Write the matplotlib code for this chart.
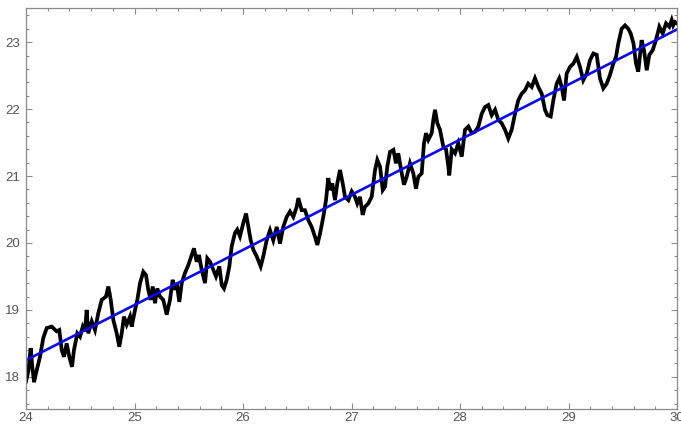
import numpy as np
import matplotlib.pyplot as plt
from matplotlib.ticker import MultipleLocator

# traced path (x, y)
walk_x = [24.000, 24.021, 24.043, 24.058, 24.074, 24.099, 24.129, 24.159, 24.191, 24.237,
          24.283, 24.307, 24.329, 24.350, 24.375, 24.399, 24.424, 24.442, 24.473, 24.498,
          24.523, 24.544, 24.559, 24.574, 24.606, 24.636, 24.666, 24.698, 24.737, 24.759,
          24.781, 24.805, 24.836, 24.860, 24.882, 24.903, 24.928, 24.959, 24.974, 25.005,
          25.026, 25.051, 25.081, 25.106, 25.127, 25.149, 25.168, 25.189, 25.210, 25.235,
          25.265, 25.297, 25.327, 25.352, 25.373, 25.389, 25.413, 25.435, 25.465, 25.496,
          25.527, 25.548, 25.573, 25.594, 25.619, 25.650, 25.671, 25.696, 25.726, 25.751,
          25.782, 25.804, 25.825, 25.850, 25.874, 25.896, 25.926, 25.947, 25.972, 26.003,
          26.028, 26.049, 26.071, 26.095, 26.126, 26.163, 26.187, 26.218, 26.249, 26.279,
          26.311, 26.341, 26.371, 26.403, 26.433, 26.464, 26.495, 26.510, 26.541, 26.571,
          26.602, 26.633, 26.664, 26.685, 26.710, 26.740, 26.765, 26.786, 26.802, 26.823,
          26.848, 26.869, 26.894, 26.919, 26.940, 26.971, 27.002, 27.032, 27.053, 27.078,
          27.103, 27.124, 27.155, 27.186, 27.217, 27.238, 27.263, 27.288, 27.309, 27.330,
          27.355, 27.386, 27.410, 27.431, 27.463, 27.484, 27.509, 27.539, 27.570, 27.594,
          27.616, 27.647, 27.668, 27.687, 27.708, 27.739, 27.754, 27.770, 27.791, 27.816,
          27.846, 27.871, 27.892, 27.901, 27.924, 27.954, 27.984, 28.016, 28.046, 28.077,
          28.108, 28.138, 28.169, 28.200, 28.230, 28.261, 28.292, 28.323, 28.353, 28.384,
          28.415, 28.445, 28.476, 28.507, 28.537, 28.568, 28.599, 28.629, 28.661, 28.691,
          28.722, 28.753, 28.783, 28.805, 28.836, 28.860, 28.891, 28.915, 28.937, 28.959,
          28.983, 29.014, 29.045, 29.076, 29.106, 29.136, 29.168, 29.198, 29.229, 29.260,
          29.290, 29.321, 29.352, 29.382, 29.413, 29.438, 29.459, 29.490, 29.521, 29.551,
          29.573, 29.599, 29.622, 29.643, 29.674, 29.696, 29.721, 29.745, 29.776, 29.806,
          29.837, 29.868, 29.899, 29.929, 29.951, 29.965, 29.982, 30.000]
walk_y = [17.93, 18.08, 18.43, 18.15, 17.92, 18.10, 18.30, 18.58, 18.73, 18.75,
          18.68, 18.70, 18.40, 18.30, 18.50, 18.30, 18.15, 18.40, 18.65, 18.60,
          18.75, 18.68, 19.00, 18.65, 18.83, 18.70, 18.95, 19.15, 19.20, 19.35,
          19.15, 18.85, 18.65, 18.45, 18.65, 18.90, 18.78, 18.90, 18.75, 19.00,
          19.15, 19.40, 19.57, 19.52, 19.30, 19.15, 19.35, 19.10, 19.32, 19.20,
          19.15, 18.93, 19.15, 19.45, 19.30, 19.40, 19.12, 19.40, 19.55, 19.67,
          19.82, 19.92, 19.72, 19.82, 19.60, 19.40, 19.77, 19.72, 19.60, 19.50,
          19.65, 19.37, 19.32, 19.45, 19.65, 19.95, 20.15, 20.20, 20.10, 20.30,
          20.44, 20.24, 20.04, 19.90, 19.80, 19.65, 19.80, 20.04, 20.19, 20.04,
          20.24, 19.99, 20.24, 20.39, 20.47, 20.39, 20.54, 20.67, 20.49, 20.49,
          20.34, 20.24, 20.09, 19.97, 20.14, 20.39, 20.64, 20.97, 20.79, 20.89,
          20.64, 20.89, 21.09, 20.89, 20.69, 20.64, 20.77, 20.69, 20.59, 20.69,
          20.42, 20.54, 20.59, 20.69, 21.09, 21.24, 21.14, 20.79, 20.84, 21.14,
          21.36, 21.39, 21.19, 21.34, 21.04, 20.87, 20.99, 21.19, 21.04, 20.81,
          20.99, 21.04, 21.49, 21.64, 21.54, 21.64, 21.84, 21.99, 21.79, 21.69,
          21.44, 21.40, 21.15, 21.01, 21.40, 21.34, 21.49, 21.29, 21.69, 21.74,
          21.64, 21.66, 21.74, 21.93, 22.03, 22.06, 21.91, 21.99, 21.84, 21.79,
          21.69, 21.56, 21.69, 21.93, 22.13, 22.23, 22.28, 22.38, 22.33, 22.46,
          22.33, 22.23, 21.99, 21.91, 21.89, 22.13, 22.38, 22.46, 22.33, 22.13,
          22.53, 22.63, 22.68, 22.78, 22.63, 22.43, 22.53, 22.73, 22.83, 22.81,
          22.46, 22.31, 22.38, 22.51, 22.68, 22.78, 22.98, 23.20, 23.25, 23.20,
          23.13, 22.98, 22.68, 22.56, 23.03, 22.88, 22.58, 22.81, 22.88, 23.03,
          23.23, 23.13, 23.28, 23.23, 23.33, 23.25, 23.30, 23.28]

# fitted straight line
fit_x = [24.0, 30.0]
fit_y = [18.25, 23.19]

plt.rcParams['font.family'] = ['Liberation Sans', 'DejaVu Sans']

fig = plt.figure(figsize=(6.81, 4.26), dpi=100)
ax = fig.add_axes([26/681, 17/426, 651/681, 401/426])

ax.plot(walk_x, walk_y, '-', color='k', lw=2.7, solid_joinstyle='miter')
ax.plot(fit_x, fit_y, '-', color='#0a0af0', lw=1.9)

ax.set_xlim(24, 30)
ax.set_ylim(17.52, 23.51)
ax.xaxis.set_major_locator(MultipleLocator(1))
ax.xaxis.set_minor_locator(MultipleLocator(0.2))
ax.yaxis.set_major_locator(MultipleLocator(1))
ax.yaxis.set_minor_locator(MultipleLocator(0.2))

for s in ax.spines.values():
    s.set_color('#8a8a8a')
    s.set_linewidth(0.9)
ax.tick_params(which='both', direction='in', top=True, right=True,
               color='#8a8a8a', width=0.8, labelcolor='#555555', labelsize=9.5)
ax.tick_params(which='major', length=4)
ax.tick_params(which='minor', length=2.3)
ax.tick_params(axis='x', which='major', pad=2.5)
ax.tick_params(axis='y', which='major', pad=4.5)

plt.savefig('out.png', dpi=100)
